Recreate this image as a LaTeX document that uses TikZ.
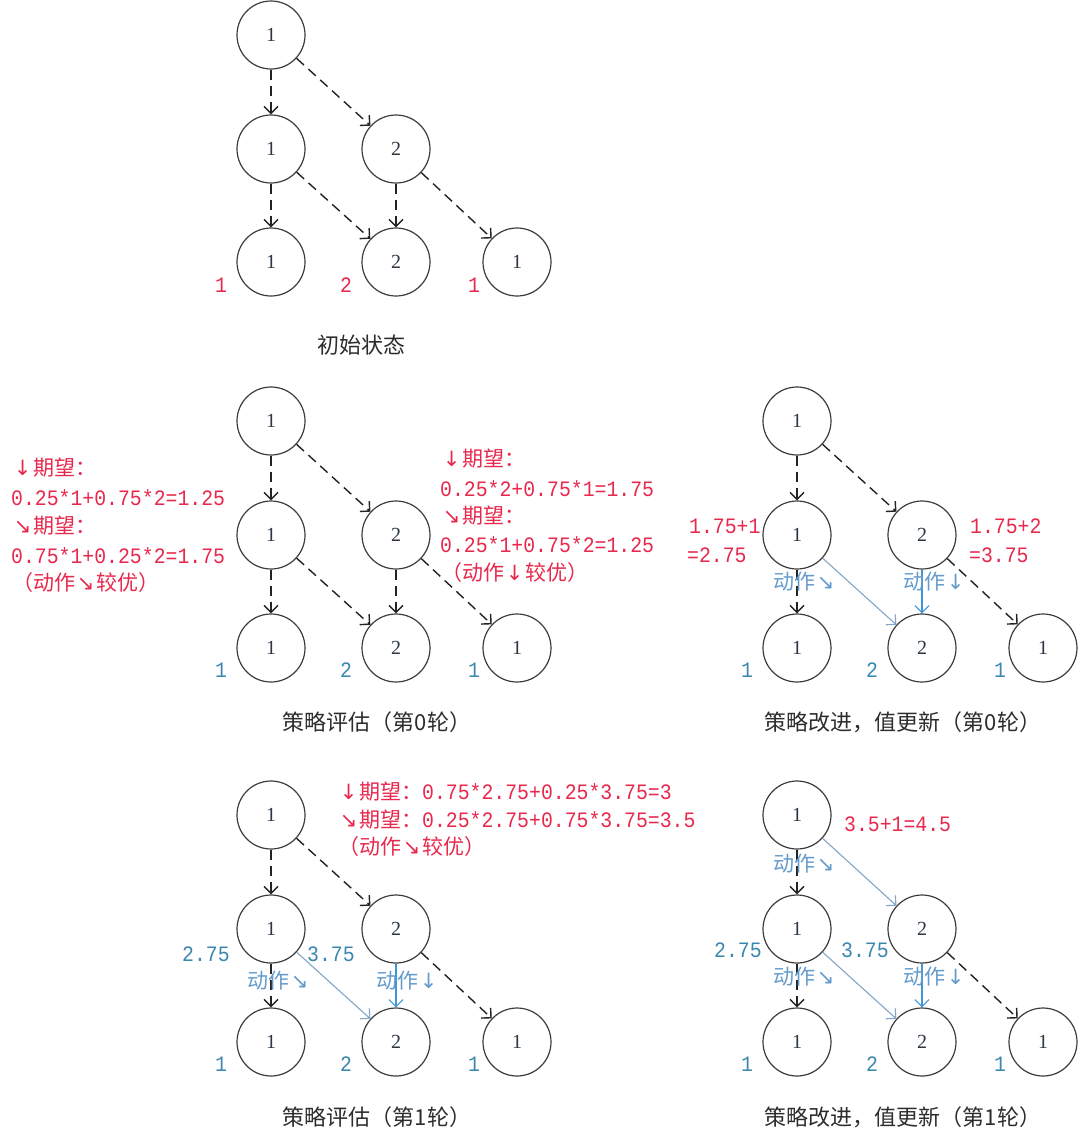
\documentclass[tikz,border=0pt]{standalone}
\usepackage{fontspec}
\setmainfont{Noto Sans CJK SC}
\newfontfamily\mymono[FakeStretch=0.9]{Liberation Mono}
\newfontfamily\myserif{Liberation Serif}
\newfontfamily\myarrf{DejaVu Sans}
\usetikzlibrary{arrows.meta}
\definecolor{redc}{RGB}{232,40,76}
\definecolor{bluen}{RGB}{60,135,175}
\definecolor{bluet}{RGB}{100,155,205}
\definecolor{bluediag}{RGB}{130,165,200}
\definecolor{bluevert}{RGB}{60,150,215}
\definecolor{dk}{RGB}{35,35,35}
\definecolor{circ}{RGB}{60,60,60}
\definecolor{numc}{RGB}{45,55,65}
\definecolor{capc}{RGB}{45,45,45}
\newcommand\mydn{\makebox[1em]{\myarrf ↓}}
\newcommand\myse{\makebox[1em]{\myarrf ↘}}
\newcommand\mynum[1]{{\mymono\fontsize{22}{22}\selectfont #1}}
\tikzset{
 st/.style={circle, draw=circ, line width=1.2pt, minimum size=68pt, inner sep=0pt,
   font=\myserif\fontsize{20}{20}\selectfont, text=numc},
 dsh/.style={draw=dk, line width=1.4pt, dash pattern=on 10pt off 6pt,
   -{Straight Barb[length=7pt,width=14pt]}},
 bdiag/.style={draw=bluediag, line width=1.1pt, -{Straight Barb[length=7pt,width=14pt]}},
 bvert/.style={draw=bluevert, line width=1.1pt, -{Straight Barb[length=7pt,width=14pt]}},
 rt/.style={anchor=base west, inner sep=0pt, text=redc, font=\fontsize{21}{21}\selectfont},
 bt/.style={anchor=base west, inner sep=0pt, text=bluet, font=\fontsize{21}{21}\selectfont},
 bnum/.style={anchor=base west, inner sep=0pt, text=bluen, font=\mymono\fontsize{22}{22}\selectfont},
 leafr/.style={anchor=base, inner sep=0pt, text=redc, font=\mymono\fontsize{22}{22}\selectfont},
 leafb/.style={anchor=base, inner sep=0pt, text=bluen, font=\mymono\fontsize{22}{22}\selectfont},
 captxt/.style={inner sep=0pt, text=capc, font=\fontsize{22}{22}\selectfont},
}
\newcommand\mktree[3]{%
 \begin{scope}[shift={(#2,#3)}]
  \node[st] (#1r) at (0,0) {1};
  \node[st] (#1a) at (0,114) {1};
  \node[st] (#1b) at (125,114) {2};
  \node[st] (#1c) at (0,227) {1};
  \node[st] (#1d) at (125,227) {2};
  \node[st] (#1e) at (246,227) {1};
 \end{scope}}
\newcommand\mkleaves[4]{%
 \begin{scope}[shift={(#2,#3)}]
  \node[#4] (#1l1) at (-50,256) {1};
  \node[#4] (#1l2) at (75,256) {2};
  \node[#4] (#1l3) at (203,256) {1};
 \end{scope}}
\begin{document}
\begin{tikzpicture}[x=1pt,y=-1pt]
\fill[white] (0,0) rectangle (1080,1144);
\useasboundingbox (0,0) rectangle (1080,1144);

% ---------- top: initial state ----------
\mktree{T}{271}{35}
\mkleaves{T}{271}{36}{leafr}
\draw[dsh] (Tr) -- (Ta);
\draw[dsh] (Tr) -- (Tb);
\draw[dsh] (Ta) -- (Tc);
\draw[dsh] (Ta) -- (Td);
\draw[dsh] (Tb) -- (Td);
\draw[dsh] (Tb) -- (Te);
\node[captxt] (Tcap) at (361,345) {初始状态};

% ---------- middle left: evaluation round 0 ----------
\mktree{A}{271}{421}
\mkleaves{A}{271}{421}{leafb}
\draw[dsh] (Ar) -- (Aa);
\draw[dsh] (Ar) -- (Ab);
\draw[dsh] (Aa) -- (Ac);
\draw[dsh] (Aa) -- (Ad);
\draw[dsh] (Ab) -- (Ad);
\draw[dsh] (Ab) -- (Ae);
\node[rt] (A1) at (12,475) {\mydn{}期望：};
\node[rt] (A2) at (11,505) {\mynum{0.25*1+0.75*2=1.25}};
\node[rt] (A3) at (12,533) {\myse{}期望：};
\node[rt] (A4) at (11,563) {\mynum{0.75*1+0.25*2=1.75}};
\node[rt] (A5) at (12,590) {（动作\myse{}较优）};
\node[rt] (A6) at (441,466) {\mydn{}期望：};
\node[rt] (A7) at (440,496) {\mynum{0.25*2+0.75*1=1.75}};
\node[rt] (A8) at (441,523) {\myse{}期望：};
\node[rt] (A9) at (440,552) {\mynum{0.25*1+0.75*2=1.25}};
\node[rt] (A10) at (441,580) {（动作\mydn{}较优）};
\node[captxt] (Acap) at (377,722) {策略评估（第0轮）};

% ---------- middle right: improvement round 0 ----------
\mktree{B}{797}{421}
\mkleaves{B}{797}{421}{leafb}
\draw[dsh] (Br) -- (Ba);
\draw[dsh] (Br) -- (Bb);
\draw[dsh] (Ba) -- (Bc);
\draw[bdiag] (Ba) -- (Bd);
\draw[bvert] (Bb) -- (Bd);
\draw[dsh] (Bb) -- (Be);
\node[rt] (B1) at (689,533) {\mynum{1.75+1}};
\node[rt] (B2) at (687,562) {\mynum{=2.75}};
\node[rt] (B3) at (970,533) {\mynum{1.75+2}};
\node[rt] (B4) at (969,562) {\mynum{=3.75}};
\node[bt] (B5) at (773,589) {动作\myse};
\node[bt] (B6) at (903,589) {动作\mydn};
\node[captxt] (Bcap) at (903,722) {策略改进，值更新（第0轮）};

% ---------- bottom left: evaluation round 1 ----------
\mktree{C}{271}{815}
\mkleaves{C}{271}{815}{leafb}
\draw[dsh] (Cr) -- (Ca);
\draw[dsh] (Cr) -- (Cb);
\draw[dsh] (Ca) -- (Cc);
\draw[bdiag] (Ca) -- (Cd);
\draw[bvert] (Cb) -- (Cd);
\draw[dsh] (Cb) -- (Ce);
\node[rt] (C1) at (338,799) {\mydn{}期望：\mynum{0.75*2.75+0.25*3.75=3}};
\node[rt] (C2) at (338,827) {\myse{}期望：\mynum{0.25*2.75+0.75*3.75=3.5}};
\node[rt] (C3) at (338,854) {（动作\myse{}较优）};
\node[bnum] (C4) at (182,961) {2.75};
\node[bnum] (C5) at (307,961) {3.75};
\node[bt] (C6) at (247,988) {动作\myse};
\node[bt] (C7) at (376,988) {动作\mydn};
\node[captxt] (Ccap) at (377,1117) {策略评估（第1轮）};

% ---------- bottom right: improvement round 1 ----------
\mktree{D}{797}{815}
\mkleaves{D}{797}{815}{leafb}
\draw[dsh] (Dr) -- (Da);
\draw[bdiag] (Dr) -- (Db);
\draw[dsh] (Da) -- (Dc);
\draw[bdiag] (Da) -- (Dd);
\draw[bvert] (Db) -- (Dd);
\draw[dsh] (Db) -- (De);
\node[rt] (D1) at (844,831) {\mynum{3.5+1=4.5}};
\node[bnum] (D2) at (714,957) {2.75};
\node[bnum] (D3) at (841,957) {3.75};
\node[bt] (D4) at (773,871) {动作\myse};
\node[bt] (D5) at (773,984) {动作\myse};
\node[bt] (D6) at (903,984) {动作\mydn};
\node[captxt] (Dcap) at (903,1117) {策略改进，值更新（第1轮）};
\end{tikzpicture}
\end{document}
